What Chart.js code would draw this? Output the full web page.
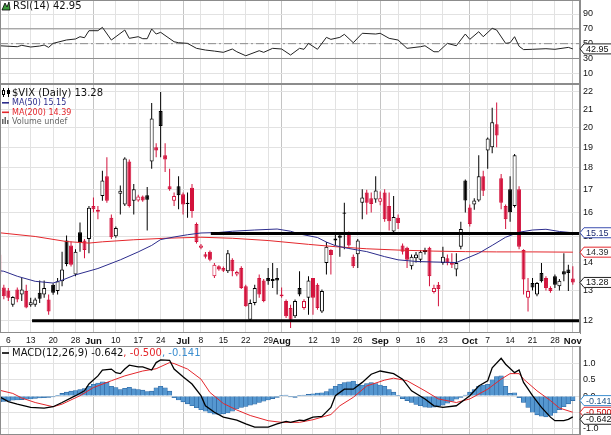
<!DOCTYPE html>
<html>
<head>
<meta charset="utf-8">
<script src="https://cdn.jsdelivr.net/npm/chart.js@4.4.0/dist/chart.umd.min.js"></script>
<style>
  body { margin: 0; background: #fff; }
  #wrap { position: relative; width: 611px; height: 435px; overflow: hidden; }
  .pane { position: absolute; left: 0; width: 611px; }
</style>
</head>
<body>
<div id="wrap">
  <div class="pane" style="top:0;height:84px"><canvas id="rsi"></canvas></div>
  <div class="pane" style="top:84px;height:262px"><canvas id="price"></canvas></div>
  <div class="pane" style="top:346px;height:89px"><canvas id="macd"></canvas></div>
</div>
<script>
// trading days, index 0 = May 2 2013 ... 128 = Nov 1 2013
const tickDays   = [2, 7, 12, 17, 21, 26, 31, 36, 41, 45, 50, 55, 60, 63, 70, 75, 80, 85, 89, 94, 99, 105, 109, 114, 119, 124, 128];
const tickLabels = ['6', '13', '20', '28', 'Jun', '10', '17', '24', 'Jul', '8', '15', '22', '29', 'Aug', '12', '19', '26', 'Sep', '9', '16', '23', 'Oct', '7', '14', '21', '28', 'Nov'];

const opens = [
  14.3, 13.1, 13.0, 12.52, 13.03, 12.86, 12.98, 12.5, 12.52, 12.92,
  12.86, 12.69, 13.2, 12.98, 13.32, 14.84, 14.65, 13.56, 15.17, 14.84,
  14.9, 16.26, 16.02, 16.7, 17.6, 15.76, 15.01, 16.8, 16.33, 18.3,
  16.49, 16.5, 16.68, 16.73, 18.3, 19.0, 20.92, 18.6, 17.14, 16.49,
  17.14, 16.78, 16.4, 17.07, 15.5, 14.56, 14.31, 14.41, 13.5, 13.86,
  13.8, 13.68, 14.1, 13.56, 13.8, 13.15, 12.03, 12.58, 13.44, 13.35,
  13.44, 13.4, 13.44, 12.8, 12.64, 12.41, 12.14, 13.09, 12.41, 12.75,
  13.44, 13.2, 12.3, 13.98, 14.47, 14.84, 15.04, 15.98, 15.15, 14.22,
  14.31, 16.4, 16.86, 16.6, 16.55, 16.45, 16.86, 16.26, 15.2, 15.76,
  14.65, 14.56, 13.86, 14.16, 14.1, 14.4, 14.56, 12.95, 13.2, 13.98,
  14.16, 14.0, 13.74, 14.6, 17.4, 16.2, 16.33, 16.5, 17.6, 18.84,
  19.0, 20.2, 17.5, 16.26, 17.0, 16.26, 17.0, 14.47, 12.75, 13.26,
  12.86, 13.62, 13.44, 13.09, 13.5, 13.15, 13.68, 13.74, 13.42
];
const highs = [
  14.41, 13.2, 13.09, 12.8, 13.1, 13.44, 13.2, 12.75, 12.75, 13.35,
  13.35, 12.86, 13.25, 13.44, 14.41, 15.04, 14.8, 14.5, 15.57, 14.9,
  16.26, 16.63, 16.26, 17.86, 18.5, 15.9, 15.4, 17.17, 18.5, 18.4,
  17.24, 16.75, 16.72, 17.1, 21.36, 19.2, 22.0, 19.2, 17.95, 16.86,
  17.6, 16.86, 16.86, 17.24, 15.57, 14.7, 14.4, 14.45, 13.98, 13.9,
  13.85, 14.47, 14.16, 13.7, 13.86, 13.2, 12.69, 13.2, 13.56, 13.4,
  13.8, 13.98, 13.8, 13.1, 12.69, 12.52, 12.69, 13.68, 12.7, 13.5,
  13.44, 13.25, 13.03, 14.78, 14.5, 15.17, 15.17, 16.4, 15.2, 14.3,
  14.9, 17.0, 16.98, 16.86, 17.6, 16.9, 17.0, 16.86, 16.7, 15.9,
  14.72, 14.6, 14.3, 14.4, 14.47, 14.56, 14.6, 13.2, 13.3, 14.6,
  14.3, 14.35, 14.35, 15.6, 17.45, 16.33, 16.6, 18.6, 17.86, 19.5,
  21.1, 21.4, 17.7, 16.33, 17.6, 18.66, 17.14, 14.5, 13.44, 13.44,
  13.3, 13.98, 13.5, 13.15, 13.56, 13.4, 14.35, 13.92, 13.86
];
const lows = [
  13.44, 12.7, 12.64, 12.45, 12.6, 12.64, 12.4, 12.45, 12.45, 12.58,
  12.75, 12.19, 12.85, 12.86, 13.15, 13.86, 13.85, 13.5, 14.41, 14.16,
  14.35, 15.98, 15.7, 16.49, 16.4, 14.9, 14.95, 15.9, 16.26, 16.2,
  15.9, 16.45, 16.45, 15.24, 17.95, 18.5, 18.5, 17.8, 16.93, 16.26,
  16.12, 15.9, 15.76, 15.76, 14.72, 14.5, 14.15, 14.05, 13.44, 13.7,
  13.65, 13.62, 13.5, 13.5, 13.05, 12.45, 11.98, 12.5, 12.75, 12.6,
  13.2, 13.09, 12.86, 12.75, 12.09, 11.77, 12.09, 12.8, 12.35, 12.19,
  12.19, 12.35, 12.25, 13.56, 13.56, 14.65, 14.22, 14.5, 14.6, 13.8,
  13.8, 15.7, 15.9, 15.98, 16.4, 16.3, 15.6, 15.24, 15.1, 15.3,
  14.3, 13.8, 13.74, 14.0, 14.0, 14.3, 13.15, 12.9, 12.47, 13.92,
  13.9, 13.8, 13.5, 14.5, 15.98, 15.4, 16.1, 16.45, 16.7, 17.95,
  18.7, 19.0, 16.12, 15.3, 15.6, 16.2, 14.5, 12.86, 12.3, 13.0,
  12.8, 13.28, 13.0, 12.92, 13.09, 13.0, 13.32, 12.98, 13.2
];
const closes = [
  13.56, 12.8, 12.75, 12.78, 12.69, 13.03, 12.43, 12.6, 12.69, 12.72,
  13.09, 12.3, 12.92, 13.32, 13.74, 13.95, 13.92, 14.41, 14.78, 14.47,
  16.19, 16.12, 16.1, 17.4, 16.49, 14.97, 15.34, 16.93, 18.45, 16.26,
  17.0, 16.68, 16.5, 16.53, 20.5, 18.84, 20.1, 18.4, 17.0, 16.7,
  16.73, 16.33, 16.35, 16.05, 14.78, 14.65, 14.22, 14.1, 13.92, 13.74,
  13.7, 14.35, 13.68, 13.65, 13.09, 12.47, 12.58, 13.09, 12.86, 12.64,
  13.32, 13.33, 13.35, 12.86, 12.14, 12.03, 12.64, 12.86, 12.64, 13.35,
  12.75, 12.41, 12.98, 14.6, 14.28, 14.92, 14.95, 15.93, 14.65, 13.86,
  14.84, 16.63, 16.4, 16.35, 16.95, 16.6, 15.7, 15.62, 15.8, 15.55,
  14.41, 14.1, 14.22, 14.3, 14.41, 14.47, 13.5, 13.09, 13.05, 14.22,
  13.98, 13.92, 13.98, 15.3, 16.5, 15.5, 16.5, 17.6, 16.93, 19.45,
  20.3, 19.6, 16.4, 15.7, 16.0, 18.6, 14.6, 13.38, 12.98, 13.1,
  13.26, 13.32, 13.09, 12.98, 13.2, 13.34, 13.56, 13.62, 13.28
];

const ma50Days = [0, 1, 4, 8, 12, 14, 17, 22, 27, 31, 34, 36, 39, 42, 45, 49, 52, 57, 62, 65, 67, 71, 73, 75, 78, 82, 86, 89, 93, 97, 102, 104, 107, 110, 113, 116, 119, 122, 125, 128];
const ma50 = [13.7, 13.68, 13.5, 13.32, 13.26, 13.36, 13.55, 13.78, 14.1, 14.4, 14.65, 14.88, 14.98, 15.07, 15.14, 15.16, 15.21, 15.26, 15.3, 15.21, 15.1, 14.96, 14.78, 14.64, 14.53, 14.41, 14.22, 14.1, 14.04, 14.02, 14.0, 14.14, 14.35, 14.65, 14.97, 15.17, 15.26, 15.29, 15.2, 15.15];
const ma200Days = [0, 8, 15, 20, 23, 30, 37, 45, 52, 60, 69, 75, 82, 89, 97, 104, 111, 119, 128];
const ma200 = [15.15, 15.0, 14.8, 14.74, 14.79, 14.87, 14.93, 14.97, 14.93, 14.84, 14.69, 14.6, 14.52, 14.47, 14.43, 14.41, 14.4, 14.4, 14.39];

// hand-drawn levels on the price panel
const levelStart = [47.2, 7.3];
const levelValue = [15.12, 12.0];
const priceTicks = [12, 13, 14, 15, 16, 17, 18, 19, 20, 21, 22];

const rsiDays = [0, 4, 5, 7, 9, 10, 11, 12, 15, 17, 18, 19, 20, 22, 23, 25, 28, 29, 31, 32, 33, 34, 35, 36, 39, 40, 42, 44, 46, 48, 50, 52, 53, 55, 58, 59, 61, 63, 65, 67, 68, 69, 71, 73, 74, 76, 77, 79, 81, 84, 85, 87, 89, 91, 94, 95, 97, 98, 100, 102, 104, 105, 107, 108, 110, 111, 113, 114, 115, 116, 117, 119, 122, 124, 127, 128];
const rsi = [47.2, 45.9, 47.8, 45.5, 46.8, 48.2, 45, 50.4, 55, 56.3, 59.4, 58, 67.5, 67.5, 72, 54.9, 68.4, 57.2, 59.4, 56.7, 56.7, 69.8, 63, 65.3, 52.6, 51.3, 50.4, 43.7, 41.4, 40, 38.3, 42.8, 39.1, 33.7, 40.5, 38.3, 43.7, 42.8, 34.7, 43.7, 42.4, 50.4, 42.4, 58.5, 55.8, 58.5, 62.6, 51.3, 64, 63, 64, 57.2, 54.9, 43.7, 45.9, 47.2, 39.1, 39.1, 50.4, 47.2, 63, 55.8, 66.1, 59.4, 70.7, 68.4, 50.4, 51.3, 59.4, 46.5, 42, 42.4, 43.2, 42.4, 45, 42.95];
const rsiTicks = [10, 30, 50, 70, 90];

const macdDays = [0, 2, 4, 7, 10, 12, 14, 17, 19, 20, 22, 23, 25, 26, 27, 28, 29, 31, 32, 34, 35, 36, 38, 39, 41, 43, 45, 46, 48, 50, 53, 55, 57, 60, 62, 64, 65, 67, 68, 70, 72, 74, 75, 77, 79, 81, 83, 85, 88, 90, 92, 95, 97, 99, 102, 105, 107, 109, 110, 112, 113, 115, 116, 117, 119, 121, 123, 124, 126, 127, 128];
const macd = [-0.02, -0.17, -0.25, -0.35, -0.37, -0.33, -0.2, 0.01, 0.16, 0.37, 0.62, 0.8, 0.83, 0.72, 0.69, 0.83, 0.95, 0.9, 0.9, 0.8, 1.03, 1.11, 1.1, 0.83, 0.59, 0.37, 0.01, -0.3, -0.5, -0.65, -0.74, -0.86, -0.96, -0.96, -0.86, -0.78, -0.81, -0.74, -0.76, -0.65, -0.63, -0.35, 0.01, 0.21, 0.21, 0.42, 0.67, 0.77, 0.69, 0.52, 0.16, -0.09, -0.3, -0.35, -0.3, 0.01, 0.31, 0.47, 0.87, 1.16, 0.98, 0.72, 0.8, 0.42, 0.01, -0.35, -0.65, -0.76, -0.76, -0.72, -0.642];
const signalDays = [0, 3, 5, 8, 12, 14, 18, 21, 25, 28, 32, 35, 38, 39, 42, 45, 47, 50, 53, 56, 60, 63, 67, 70, 74, 76, 79, 82, 86, 88, 91, 95, 98, 102, 105, 109, 112, 114, 116, 117, 120, 123, 125, 128];
const signal = [0.18, 0.08, -0.06, -0.2, -0.33, -0.25, 0.01, 0.26, 0.47, 0.62, 0.77, 0.84, 1.03, 1.0, 0.83, 0.52, 0.11, -0.23, -0.43, -0.6, -0.76, -0.81, -0.81, -0.73, -0.57, -0.3, -0.04, 0.31, 0.49, 0.55, 0.47, 0.16, -0.09, -0.2, -0.09, 0.21, 0.52, 0.69, 0.69, 0.52, 0.16, -0.14, -0.37, -0.5];
const hist = [
  -0.18, -0.17, -0.15, -0.13, -0.12, -0.11, -0.1, -0.09, -0.07, -0.06,
  -0.05, -0.04, -0.03, 0.02, 0.08, 0.12, 0.15, 0.17, 0.2, 0.23,
  0.3, 0.36, 0.4, 0.44, 0.42, 0.3, 0.26, 0.2, 0.24, 0.27,
  0.22, 0.2, 0.18, 0.14, 0.15, 0.25, 0.3, 0.25, 0.15, -0.05,
  -0.12, -0.18, -0.24, -0.3, -0.36, -0.42, -0.47, -0.52, -0.56, -0.57,
  -0.55, -0.52, -0.47, -0.4, -0.35, -0.32, -0.28, -0.25, -0.2, -0.16,
  -0.12, -0.08, -0.04, 0.02, 0.03, -0.03, -0.04, 0.02, 0.03, 0.05,
  0.07, 0.09, 0.1, 0.14, 0.22, 0.3, 0.36, 0.41, 0.44, 0.46,
  0.36, 0.34, 0.38, 0.41, 0.38, 0.34, 0.3, 0.2, 0.12, 0.02,
  -0.08, -0.14, -0.2, -0.26, -0.3, -0.34, -0.35, -0.34, -0.3, -0.28,
  -0.22, -0.16, -0.1, -0.04, 0.03, 0.12, 0.2, 0.3, 0.34, 0.36,
  0.5, 0.6, 0.62, 0.3, 0.08, 0.1, -0.05, -0.2, -0.35, -0.5,
  -0.58, -0.62, -0.64, -0.6, -0.52, -0.42, -0.33, -0.24, -0.141
];
const macdTicks = [-1, -0.5, 0, 0.5, 1];

const RED = '#d3123c', NAVY = '#2c2c8c', MARED = '#e4272c', BLUE = '#5597d0';
const SANS = '"Liberation Sans", Arial, sans-serif';
const TITLE = '"DejaVu Sans", Verdana, sans-serif';
const X_MIN = 0.145, X_MAX = 129.6;

const pts = (xs, ys) => xs.map((x, i) => ({ x: x, y: ys[i] }));
const last = a => a[a.length - 1];
const isMonth = v => /^[A-Z]/.test(tickLabels[tickDays.indexOf(v)] || '');

function xAxis(showLabels) {
  return {
    type: 'linear', min: X_MIN, max: X_MAX, bounds: 'data', offset: false,
    afterBuildTicks: s => { s.ticks = tickDays.map(v => ({ value: v })); },
    afterFit: s => { s.height = showLabels ? 13 : 0; s.paddingLeft = 0; s.paddingRight = 0; },
    grid: { offset: false, drawTicks: false, color: c => (c.tick && isMonth(c.tick.value)) ? '#c4c4c4' : '#e2e2e2' },
    border: { display: false },
    ticks: {
      display: showLabels, autoSkip: false, maxRotation: 0, padding: 3, color: '#111',
      font: c => (c.tick && isMonth(c.tick.value)) ? { family: SANS, size: 9.5, weight: 'bold' } : { family: SANS, size: 8.5 },
      callback: v => tickLabels[tickDays.indexOf(v)]
    }
  };
}

function yAxis(type, min, max, ticks, fmt) {
  return {
    type: type, position: 'right', min: min, max: max, bounds: 'data',
    afterBuildTicks: s => { s.ticks = ticks.map(v => ({ value: v })); },
    afterFit: s => { s.width = 31; s.paddingTop = 0; s.paddingBottom = 0; },
    grid: { drawTicks: false, color: '#e2e2e2' },
    border: { display: true, color: '#8c8c8c' },
    ticks: { autoSkip: false, padding: 3, color: '#111', font: { family: SANS, size: 9 }, callback: fmt }
  };
}

function baseOptions(scales) {
  return {
    responsive: true, maintainAspectRatio: false, animation: false, events: [],
    layout: { padding: 0 },
    plugins: { legend: { display: false }, tooltip: { enabled: false } },
    scales: scales
  };
}

function frame(ctx, a) {
  ctx.save();
  ctx.strokeStyle = '#8c8c8c';
  ctx.lineWidth = 1;
  ctx.strokeRect(a.left + 0.5, a.top + 0.5, a.right - a.left - 1, a.bottom - a.top - 1);
  ctx.restore();
}

function tag(ctx, x, y, text, stroke, color) {
  ctx.save();
  ctx.font = '9px ' + SANS;
  const w = ctx.measureText(text).width + 4;
  const h = 10;
  ctx.beginPath();
  ctx.moveTo(x, y);
  ctx.lineTo(x + 4, y - h / 2);
  ctx.lineTo(x + 5 + w, y - h / 2);
  ctx.lineTo(x + 5 + w, y + h / 2);
  ctx.lineTo(x + 4, y + h / 2);
  ctx.closePath();
  ctx.fillStyle = '#fff';
  ctx.fill();
  ctx.strokeStyle = stroke;
  ctx.lineWidth = 1;
  ctx.stroke();
  ctx.fillStyle = color;
  ctx.textBaseline = 'middle';
  ctx.fillText(text, x + 6, y + 0.5);
  ctx.restore();
}

function runs(ctx, x, y, parts) {
  parts.forEach(p => {
    ctx.fillStyle = p[1];
    ctx.fillText(p[0], x, y);
    x += ctx.measureText(p[0]).width;
  });
}

// ---------- RSI panel ----------
new Chart(document.getElementById('rsi'), {
  type: 'line',
  data: {
    datasets: [
      { data: pts(rsiDays, rsi), borderColor: '#222', borderWidth: 1, pointRadius: 0, order: 0 },
      { data: [{ x: X_MIN, y: 70 }, { x: X_MAX, y: 70 }], borderColor: '#8c8c8c', borderWidth: 1, pointRadius: 0, order: 1 },
      { data: [{ x: X_MIN, y: 30 }, { x: X_MAX, y: 30 }], borderColor: '#8c8c8c', borderWidth: 1, pointRadius: 0, order: 1 },
      { data: [{ x: X_MIN, y: 50 }, { x: X_MAX, y: 50 }], borderColor: '#8c8c8c', borderWidth: 1, borderDash: [8, 3, 2, 3], pointRadius: 0, order: 1 }
    ]
  },
  options: baseOptions({ x: xAxis(false), y: yAxis('linear', -4.4, 108.9, rsiTicks, v => String(v)) }),
  plugins: [{
    id: 'rsiDecor',
    afterDraw(chart) {
      const ctx = chart.ctx, a = chart.chartArea;
      frame(ctx, a);
      ctx.save();
      ctx.beginPath();
      ctx.moveTo(2, 10); ctx.lineTo(5, 3); ctx.lineTo(7, 7); ctx.lineTo(9, 2); ctx.lineTo(10, 10);
      ctx.closePath();
      ctx.fillStyle = '#3c9a3c'; ctx.fill();
      ctx.strokeStyle = '#000'; ctx.lineWidth = 0.8; ctx.stroke();
      ctx.font = '10px ' + TITLE;
      ctx.textBaseline = 'middle';
      ctx.fillStyle = '#111';
      ctx.fillText('RSI(14) ' + last(rsi).toFixed(2), 13, 6.5);
      ctx.restore();
      tag(ctx, a.right, chart.scales.y.getPixelForValue(last(rsi)), last(rsi).toFixed(2), '#222', '#111');
    }
  }]
});

// ---------- Price panel ----------
const days = closes.map((c, i) => i);
const candleColor = closes.map((c, i) => (i === 0 || c < closes[i - 1]) ? RED : '#000');
const hollow = closes.map((c, i) => c > opens[i]);

const levelSets = levelValue.map((v, i) => ({
  type: 'line', data: [{ x: levelStart[i], y: v }, { x: X_MAX + 1, y: v }],
  borderColor: '#000', borderWidth: 3, pointRadius: 0, order: 0
}));

new Chart(document.getElementById('price'), {
  type: 'bar',
  data: {
    datasets: [
      ...levelSets,
      { type: 'line', data: pts(ma50Days, ma50), borderColor: NAVY, borderWidth: 1, pointRadius: 0, order: 1 },
      { type: 'line', data: pts(ma200Days, ma200), borderColor: MARED, borderWidth: 1, pointRadius: 0, order: 1 },
      {
        type: 'bar', data: days.map(i => ({ x: i, y: [opens[i], closes[i]] })),
        backgroundColor: hollow.map((h, i) => h ? '#fff' : candleColor[i]),
        borderColor: candleColor, borderWidth: 1, borderSkipped: false,
        barThickness: 4, grouped: false, inflateAmount: 0, order: 2
      },
      {
        type: 'bar', data: days.map(i => ({ x: i, y: [lows[i], highs[i]] })),
        backgroundColor: candleColor, borderWidth: 0,
        barThickness: 1, grouped: false, inflateAmount: 0, order: 3
      }
    ]
  },
  options: baseOptions({ x: xAxis(true), y: yAxis('logarithmic', 11.615, 22.47, priceTicks, v => String(v)) }),
  plugins: [{
    id: 'priceDecor',
    afterDraw(chart) {
      const ctx = chart.ctx, a = chart.chartArea, y = chart.scales.y;
      frame(ctx, a);
      ctx.save();
      ctx.strokeStyle = '#000'; ctx.lineWidth = 1;
      ctx.beginPath(); ctx.moveTo(3.5, 4); ctx.lineTo(3.5, 13); ctx.moveTo(8.5, 4); ctx.lineTo(8.5, 13); ctx.stroke();
      ctx.fillStyle = '#fff'; ctx.fillRect(2, 6, 3, 5); ctx.strokeRect(2.5, 6.5, 2, 4);
      ctx.fillStyle = '#000'; ctx.fillRect(7, 6, 3, 4);
      ctx.textBaseline = 'middle';
      ctx.font = '10px ' + TITLE;
      ctx.fillStyle = '#111';
      ctx.fillText('$VIX (Daily) ' + last(closes).toFixed(2), 12, 9);
      ctx.font = '8px ' + TITLE;
      ctx.fillStyle = NAVY; ctx.fillRect(2, 18, 7, 1.6);
      ctx.fillText('MA(50) ' + last(ma50).toFixed(2), 12, 19);
      ctx.fillStyle = MARED; ctx.fillRect(2, 27.5, 7, 1.6);
      ctx.fillText('MA(200) ' + last(ma200).toFixed(2), 12, 28.5);
      ctx.fillStyle = '#666';
      ctx.fillRect(2, 35, 1.5, 5); ctx.fillRect(4.5, 33, 1.5, 7); ctx.fillRect(7, 36, 1.5, 4);
      ctx.fillText('Volume undef', 12, 38);
      ctx.restore();
      tag(ctx, a.right, y.getPixelForValue(last(ma50)), last(ma50).toFixed(2), '#3b4fb0', '#1c2a70');
      tag(ctx, a.right, y.getPixelForValue(last(ma200)), last(ma200).toFixed(2), MARED, '#333');
      tag(ctx, a.right, y.getPixelForValue(last(closes)), last(closes).toFixed(2), '#222', '#111');
    }
  }]
});

// ---------- MACD panel ----------
new Chart(document.getElementById('macd'), {
  type: 'bar',
  data: {
    datasets: [
      { type: 'line', data: pts(macdDays, macd), borderColor: '#000', borderWidth: 1.3, pointRadius: 0, order: 0 },
      { type: 'line', data: pts(signalDays, signal), borderColor: MARED, borderWidth: 1, pointRadius: 0, order: 1 },
      {
        type: 'bar', data: hist.map((v, i) => ({ x: i, y: v })),
        backgroundColor: BLUE, borderColor: '#2a64a0', borderWidth: 0.6,
        barPercentage: 1, categoryPercentage: 1, grouped: false, order: 2
      }
    ]
  },
  options: baseOptions({ x: xAxis(false), y: yAxis('linear', -1.2, 1.54, macdTicks, v => v.toFixed(1)) }),
  plugins: [{
    id: 'macdDecor',
    afterDraw(chart) {
      const ctx = chart.ctx, a = chart.chartArea, y = chart.scales.y;
      frame(ctx, a);
      ctx.save();
      ctx.fillStyle = '#000'; ctx.fillRect(2, 6.2, 7, 1.6);
      ctx.font = '10px ' + TITLE;
      ctx.textBaseline = 'middle';
      runs(ctx, 12, 7.5, [
        ['MACD(12,26,9) ' + last(macd).toFixed(3), '#111'],
        [', ' + last(signal).toFixed(3), MARED],
        [', ' + last(hist).toFixed(3), '#3d8fd0']
      ]);
      ctx.restore();
      const yh = y.getPixelForValue(last(hist));
      const ys = y.getPixelForValue(last(signal));
      const ym = Math.max(y.getPixelForValue(last(macd)), ys + 7);
      tag(ctx, a.right, yh, last(hist).toFixed(3), '#3d8fd0', '#1d4f80');
      tag(ctx, a.right, ys, last(signal).toFixed(3), MARED, '#c00');
      tag(ctx, a.right, ym, last(macd).toFixed(3), '#222', '#111');
    }
  }]
});
</script>
</body>
</html>
